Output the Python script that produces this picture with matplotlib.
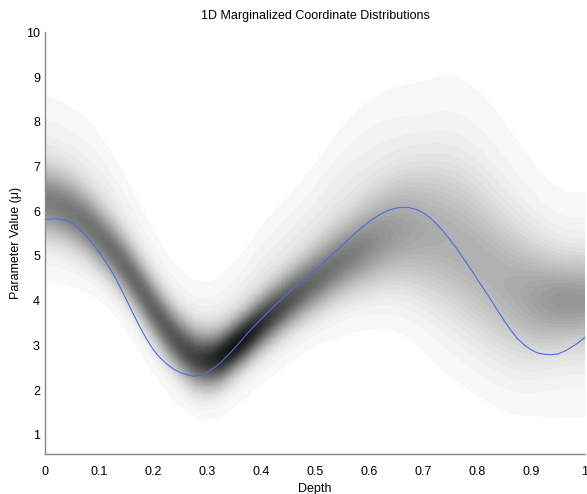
import numpy as np
import matplotlib.pyplot as plt

plt.rcParams['font.family'] = ['Liberation Sans', 'DejaVu Sans']

# True coordinate profile (blue curve), sampled every 0.0125 in depth
true_depth = np.linspace(0, 1, 81)
true_value = [5.81, 5.83, 5.83, 5.80, 5.73, 5.61, 5.45, 5.27, 5.07, 4.85,
              4.61, 4.32, 4.02, 3.71, 3.41, 3.14, 2.90, 2.72, 2.58, 2.47,
              2.39, 2.34, 2.31, 2.33, 2.40, 2.50, 2.62, 2.77, 2.93, 3.10,
              3.28, 3.44, 3.59, 3.74, 3.89, 4.03, 4.17, 4.30, 4.43, 4.56,
              4.69, 4.82, 4.96, 5.10, 5.24, 5.38, 5.52, 5.65, 5.77, 5.87,
              5.96, 6.03, 6.07, 6.09, 6.08, 6.04, 5.97, 5.86, 5.72, 5.55,
              5.36, 5.16, 4.94, 4.72, 4.49, 4.26, 4.03, 3.79, 3.56, 3.34,
              3.15, 3.01, 2.90, 2.83, 2.80, 2.79, 2.81, 2.87, 2.96, 3.06,
              3.18]

# Marginal distribution at nodes every 0.05 in depth:
# a narrow core plus a broad, faint halo
node_depth = np.linspace(0, 1, 21)
core_center = [6.25, 6.00, 5.45, 4.75, 3.80, 2.95, 2.55, 2.95, 3.50, 4.00,
               4.45, 4.90, 5.25, 5.55, 5.55, 5.35, 4.90, 4.35, 4.05, 4.00,
               4.00]
core_sigma = [0.50, 0.48, 0.45, 0.42, 0.42, 0.42, 0.40, 0.36, 0.38, 0.40,
              0.45, 0.50, 0.60, 0.75, 0.90, 1.05, 1.10, 1.00, 0.85, 0.65,
              0.65]
core_amp = [0.42, 0.45, 0.48, 0.50, 0.52, 0.58, 0.70, 0.88, 0.72, 0.58,
            0.50, 0.45, 0.38, 0.30, 0.26, 0.24, 0.24, 0.24, 0.28, 0.34,
            0.32]
halo_center = [6.55, 6.35, 6.00, 5.10, 3.95, 3.10, 2.80, 3.20, 3.95, 4.45,
               5.10, 5.60, 6.00, 6.20, 6.00, 5.80, 5.50, 4.90, 4.30, 3.90,
               3.90]
halo_sigma = [1.15, 1.10, 1.00, 0.92, 0.88, 0.82, 0.80, 0.85, 0.95, 1.00,
              1.05, 1.25, 1.35, 1.45, 1.65, 1.95, 1.90, 1.85, 1.65, 1.45,
              1.45]
halo_amp = [0.09, 0.09, 0.09, 0.09, 0.09, 0.09, 0.10, 0.10, 0.10, 0.10,
            0.10, 0.10, 0.10, 0.09, 0.08, 0.075, 0.075, 0.075, 0.075, 0.08,
            0.08]

# Evaluate the density on a fine grid
xg = np.linspace(0, 1, 400)
yg = np.linspace(0.5, 10, 500)


def smooth(v, n=25):
    k = np.ones(n) / n
    p = np.pad(v, n // 2, mode='edge')
    return np.convolve(p, k, mode='valid')


params = [smooth(np.interp(xg, node_depth, p)) for p in
          (core_center, core_sigma, core_amp, halo_center, halo_sigma, halo_amp)]
cc, cs, ca, hc, hs, ha = [p[None, :] for p in params]
Y = yg[:, None]
dens = ca * np.exp(-0.5 * ((Y - cc) / cs) ** 2) + ha * np.exp(-0.5 * ((Y - hc) / hs) ** 2)
dens = np.clip(dens, 0, 1)

fig = plt.figure(figsize=(5.87, 4.94), dpi=100)
ax = fig.add_axes([0.0775, 0.081, 0.919, 0.8533])

levels = np.linspace(0.018, 1.0, 50)
ax.contourf(xg, yg, dens, levels=levels, cmap='gray_r', vmin=0, vmax=1.0,
            extend='max')
ax.plot(true_depth, true_value, color='#4a6ee0', linewidth=0.8)

ax.set_xlim(0, 1)
ax.set_ylim(0.57, 10)
ax.set_xticks(np.arange(0, 1.01, 0.1))
ax.set_xticklabels(['0', '0.1', '0.2', '0.3', '0.4', '0.5', '0.6', '0.7',
                    '0.8', '0.9', '1'])
ax.set_yticks(range(1, 11))
ax.tick_params(length=0, labelsize=9)
ax.tick_params(axis='x', pad=9)
ax.tick_params(axis='y', pad=4)
for side in ('top', 'right'):
    ax.spines[side].set_visible(False)
for side in ('left', 'bottom'):
    ax.spines[side].set_color('#888888')
    ax.spines[side].set_linewidth(1.0)

ax.set_title('1D Marginalized Coordinate Distributions', fontsize=9, pad=10)
ax.set_xlabel('Depth', fontsize=9, labelpad=3)
ax.set_ylabel('Parameter Value (\u03bc)', fontsize=9, labelpad=3)

fig.savefig('out.png', dpi=100)
